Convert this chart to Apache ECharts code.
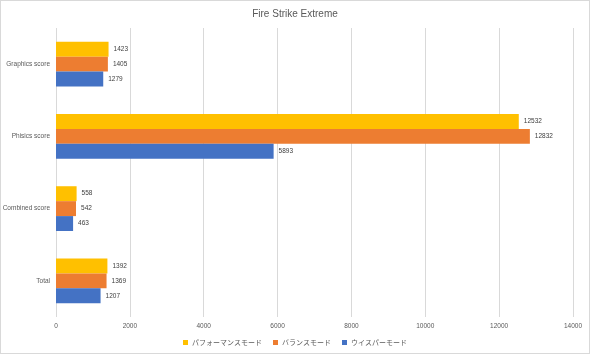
<!DOCTYPE html>
<html>
<head>
<meta charset="utf-8">
<script src="https://cdn.jsdelivr.net/npm/echarts@6/dist/echarts.min.js"></script>
<style>
  html, body { margin: 0; padding: 0; background: #fff; }
  #chart { width: 588px; height: 352px; border: 1px solid #d9d9d9; }
</style>
</head>
<body>
<div id="chart"></div>
<script>
const categories = ['Graphics score', 'Phisics score', 'Combined score', 'Total'];
const performanceMode = [1423, 12532, 558, 1392];
const balanceMode = [1405, 12832, 542, 1369];
const whisperMode = [1279, 5893, 463, 1207];
const seriesNames = ['パフォーマンスモード', 'バランスモード', 'ウイスパーモード'];
const colors = ['#ffc000', '#ed7d31', '#4472c4'];

const font = 'Liberation Sans';
const chart = echarts.init(document.getElementById('chart'));

const labelOption = {
  show: true,
  position: 'right',
  distance: 5,
  color: '#404040',
  fontSize: 6.5,
  fontFamily: font,
};

chart.setOption({
  animation: false,
  textStyle: { fontFamily: font },
  title: {
    text: 'Fire Strike Extreme',
    left: 'center',
    top: 3,
    textStyle: { fontSize: 10, fontWeight: 'normal', color: '#595959', fontFamily: font },
  },
  legend: {
    bottom: 2,
    left: 'center',
    itemWidth: 5,
    itemHeight: 5,
    itemGap: 11,
    icon: 'rect',
    textStyle: { fontSize: 7, color: '#595959', fontFamily: 'Noto Sans CJK JP', padding: [0, 0, 0, -1] },
    data: seriesNames,
  },
  grid: { left: 55, right: 16, top: 27, bottom: 36, outerBoundsMode: 'none' },
  xAxis: {
    type: 'value',
    min: 0,
    max: 14000,
    interval: 2000,
    axisLine: { show: false },
    axisTick: { show: false },
    axisLabel: { fontSize: 6.5, color: '#595959', margin: 6, formatter: (v) => String(v) },
    splitLine: { lineStyle: { color: '#d9d9d9' } },
  },
  yAxis: {
    type: 'category',
    data: categories,
    inverse: true,
    axisLine: { show: false },
    axisTick: { show: false },
    axisLabel: { fontSize: 6.5, color: '#595959', margin: 6 },
  },
  series: [performanceMode, balanceMode, whisperMode].map((values, i) => ({
    name: seriesNames[i],
    type: 'bar',
    data: values,
    barGap: '0%',
    barCategoryGap: '38%',
    itemStyle: { color: colors[i] },
    label: labelOption,
  })),
});
</script>
</body>
</html>
